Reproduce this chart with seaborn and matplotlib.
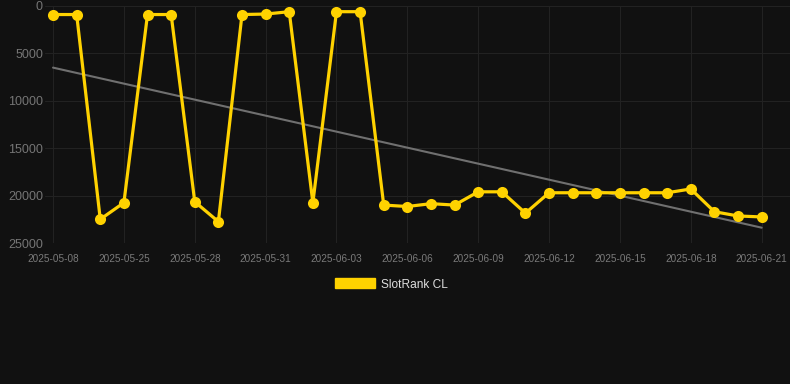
import numpy as np
import pandas as pd
import matplotlib
matplotlib.use("Agg")
import matplotlib.pyplot as plt
import seaborn as sns

dates = ["2025-05-08", "2025-05-23", "2025-05-24", "2025-05-25", "2025-05-26",
         "2025-05-27", "2025-05-28", "2025-05-29", "2025-05-30", "2025-05-31",
         "2025-06-01", "2025-06-02", "2025-06-03", "2025-06-04", "2025-06-05",
         "2025-06-06", "2025-06-07", "2025-06-08", "2025-06-09", "2025-06-10",
         "2025-06-11", "2025-06-12", "2025-06-13", "2025-06-14", "2025-06-15",
         "2025-06-16", "2025-06-17", "2025-06-18", "2025-06-19", "2025-06-20",
         "2025-06-21"]
rank = [900, 900, 22500, 20750, 900, 900, 20650, 22750, 900, 850,
        600, 20750, 600, 600, 21000, 21150, 20850, 21000, 19600, 19600,
        21850, 19700, 19700, 19700, 19700, 19700, 19700, 19300, 21700, 22150,
        22250]

df = pd.DataFrame({"idx": np.arange(len(dates)), "date": dates, "rank": rank})

sns.set_style("dark")
plt.rcParams["font.family"] = ["Liberation Sans", "DejaVu Sans"]

bg = "#111111"
fig = plt.figure(figsize=(7.9, 3.84), dpi=100, facecolor=bg)
ax = fig.add_axes([45 / 790, (384 - 243) / 384, 745 / 790, 237 / 384], facecolor=bg)

# trend line (least squares)
k, b = np.polyfit(df["idx"], df["rank"], 1)
ax.plot([0, len(dates) - 1], [b, b + k * (len(dates) - 1)], color="#707070", lw=1.5, zorder=2)

sns.lineplot(data=df, x="idx", y="rank", ax=ax, color="#FFD200", lw=2.3,
             marker="o", markersize=8, markeredgewidth=0, label="SlotRank CL",
             zorder=3, legend=False)

ax.set_ylim(25000, 0)
ax.set_xlim(-0.34, 31.2)
ax.set_yticks([0, 5000, 10000, 15000, 20000, 25000])
ax.set_yticklabels(["0", "5000", "10000", "15000", "20000", "25000"])
ticks = list(range(0, len(dates), 3))
ax.set_xticks(ticks)
ax.set_xticklabels([dates[i] for i in ticks])
ax.tick_params(axis="y", colors="#757575", labelsize=9, length=0, pad=1.5)
ax.tick_params(axis="x", colors="#7a7a7a", labelsize=7.2, length=6, width=0.8, pad=2)
ax.tick_params(axis="x", color="#262626")
ax.grid(True, color="#222222", lw=0.8)
for s in ax.spines.values():
    s.set_visible(False)
ax.set_xlabel("")
ax.set_ylabel("")

handle = plt.Rectangle((0, 0), 1, 1, color="#FFD200")
fig.legend([handle], ["SlotRank CL"], loc="center", bbox_to_anchor=(0.4955, 1 - 284.5 / 384),
           frameon=False, labelcolor="#dddddd", fontsize=8.6, handlelength=3.3,
           handleheight=0.9, handletextpad=0.5)

fig.savefig("out.png", dpi=100, facecolor=bg)
